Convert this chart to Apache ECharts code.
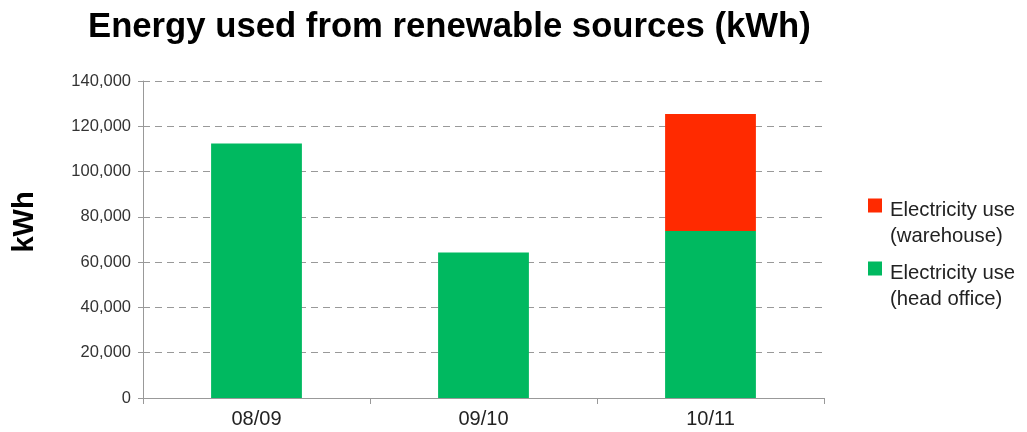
<!DOCTYPE html>
<html>
<head>
<meta charset="utf-8">
<script src="https://cdn.jsdelivr.net/npm/echarts@6/dist/echarts.min.js"></script>
<style>html,body{margin:0;padding:0;background:#fff}#c{width:1027px;height:432px}</style>
</head>
<body>
<div id="c"></div>
<script>
const categories = ['08/09', '09/10', '10/11'];
const headOffice = [112400, 64300, 73800];
const warehouse = [0, 0, 51600];
const yTicks = { min: 0, max: 140000, interval: 20000 };
const seriesNames = ['Electricity use\n(head office)', 'Electricity use\n(warehouse)'];

// legend icon: square near the top of a tall (invisible) box so it lines up with the first text line
const legendIcon = 'path://M0,3H14V17H0Z M0,52L14,52';

const chart = echarts.init(document.getElementById('c'), null, { renderer: 'canvas' });
chart.setOption({
  animation: false,
  backgroundColor: '#ffffff',
  title: {
    text: 'Energy used from renewable sources (kWh)',
    left: 83, top: 5,
    textStyle: { fontFamily: 'Liberation Sans', fontWeight: 'bold', fontSize: 34.7, color: '#000' }
  },
  graphic: [{
    type: 'text', x: 25, y: 222, rotation: Math.PI / 2,
    style: { text: 'kWh', fontFamily: 'Liberation Sans', fontWeight: 'bold', fontSize: 29, fill: '#000', align: 'center', verticalAlign: 'middle' }
  }],
  legend: {
    orient: 'vertical', left: 868, top: 197, padding: 0, itemWidth: 14, itemHeight: 52, itemGap: 11,
    icon: legendIcon,
    data: [seriesNames[1], seriesNames[0]],
    textStyle: { fontFamily: 'Liberation Sans', fontSize: 20.3, color: '#222', lineHeight: 26, padding: [0, 0, 0, 3] }
  },
  grid: { left: 143, right: 203, top: 81, bottom: 34, containLabel: false },
  xAxis: {
    type: 'category', data: categories,
    axisLine: { lineStyle: { color: '#999' } },
    axisTick: { show: true, length: 6, lineStyle: { color: '#999' } },
    axisLabel: { fontFamily: 'Liberation Sans', fontSize: 20, color: '#222', margin: 11 }
  },
  yAxis: {
    type: 'value', min: yTicks.min, max: yTicks.max, interval: yTicks.interval,
    axisLine: { show: true, lineStyle: { color: '#999' } },
    axisTick: { show: true, length: 5, lineStyle: { color: '#999' } },
    splitLine: { show: true, lineStyle: { color: '#999', type: [7, 5] } },
    axisLabel: {
      fontFamily: 'Liberation Sans', fontSize: 16.5, color: '#333', margin: 12,
      formatter: v => v.toLocaleString('en-US')
    }
  },
  series: [
    { name: seriesNames[0], type: 'bar', stack: 'a', data: headOffice, barWidth: '40%', itemStyle: { color: '#00B960' } },
    { name: seriesNames[1], type: 'bar', stack: 'a', data: warehouse, barWidth: '40%', itemStyle: { color: '#FF2A00' } }
  ]
});
</script>
</body>
</html>
